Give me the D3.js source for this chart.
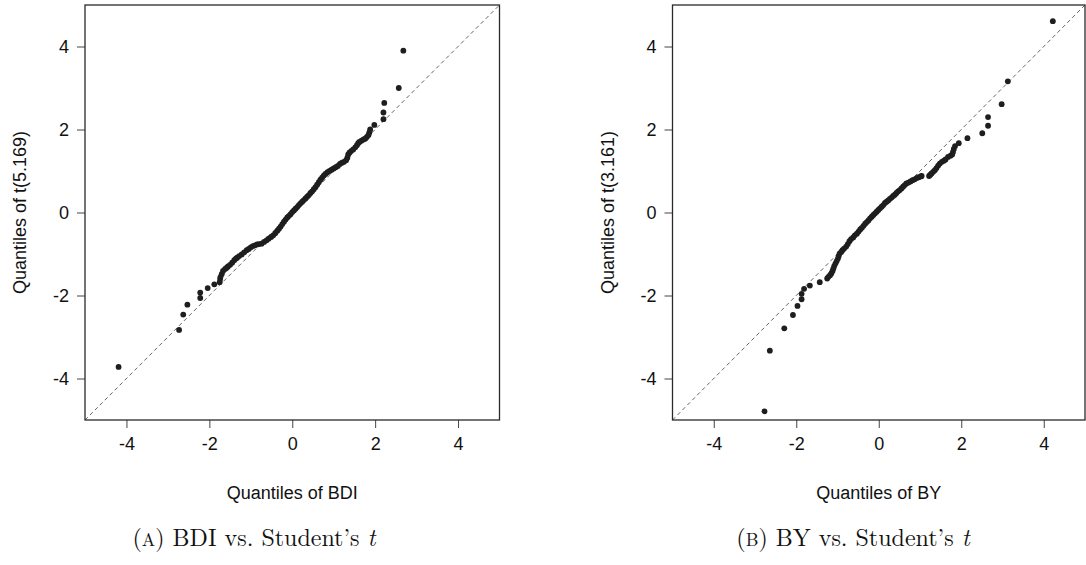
<!DOCTYPE html>
<html>
<head>
<meta charset="utf-8">
<script src="https://cdn.jsdelivr.net/npm/d3@7"></script>
<style>
  body { margin: 0; background: #fff; }
  svg text { font-family: "Liberation Sans", Arial, sans-serif; fill: #111; }
  .cap { font-family: "Latin Modern Roman", "Liberation Serif", "DejaVu Serif", serif; }
</style>
</head>
<body>
<svg id="fig" width="1086" height="565"></svg>
<script>
// ticks shared by both panels
var tickValues = [-4, -2, 0, 2, 4];

// panel A: sample quantiles of BDI vs t(5.169) quantiles
var bdiX = [-4.19, -2.73, -2.63, -2.53, -2.22, -2.22, -2.04, -1.88,
  -1.75, -1.74, -1.73, -1.70, -1.67, -1.62, -1.58, -1.55, -1.50, -1.45, -1.40, -1.36,
  -1.33, -1.28, -1.22, -1.16, -1.10, -1.05, -1.00, -0.95, -0.90, -0.85, -0.80, -0.74,
  -0.68, -0.62, -0.57, -0.51, -0.46, -0.41, -0.36, -0.32, -0.28, -0.24, -0.20, -0.16,
  -0.12, -0.08, -0.04, 0.00, 0.04, 0.08, 0.12, 0.16, 0.20, 0.24, 0.28, 0.32, 0.36,
  0.40, 0.44, 0.48, 0.52, 0.56, 0.60, 0.64, 0.68, 0.72, 0.76, 0.80, 0.85, 0.90, 0.95,
  1.00, 1.05, 1.10, 1.15, 1.20, 1.25, 1.30, 1.33, 1.35, 1.38, 1.42, 1.47, 1.52, 1.56,
  1.59, 1.62, 1.67, 1.72, 1.76, 1.80, 1.84, 1.86, 1.88, 1.98, 2.20, 2.20, 2.22, 2.57, 2.68];
var bdiY = [-3.72, -2.83, -2.46, -2.22, -2.06, -1.93, -1.82, -1.73,
  -1.68, -1.60, -1.55, -1.48, -1.41, -1.36, -1.33, -1.30, -1.26, -1.21, -1.15, -1.11,
  -1.09, -1.05, -1.01, -0.96, -0.91, -0.88, -0.84, -0.81, -0.79, -0.77, -0.76, -0.75,
  -0.71, -0.67, -0.63, -0.59, -0.55, -0.50, -0.44, -0.39, -0.34, -0.28, -0.22, -0.17,
  -0.12, -0.08, -0.04, 0.01, 0.05, 0.09, 0.13, 0.18, 0.22, 0.26, 0.30, 0.34, 0.38,
  0.42, 0.47, 0.51, 0.56, 0.61, 0.67, 0.73, 0.79, 0.84, 0.89, 0.93, 0.97, 1.00, 1.03,
  1.06, 1.09, 1.12, 1.17, 1.20, 1.22, 1.26, 1.32, 1.40, 1.44, 1.48, 1.52, 1.57, 1.62,
  1.67, 1.70, 1.73, 1.76, 1.78, 1.82, 1.87, 1.93, 2.00, 2.11, 2.25, 2.41, 2.64, 3.00, 3.90];

// panel B: sample quantiles of BY vs t(3.161) quantiles
var byX = [-2.77, -2.64, -2.29, -2.08, -1.97, -1.87, -1.87, -1.81, -1.67, -1.43,
  -1.25, -1.22, -1.18, -1.15, -1.12, -1.10, -1.08, -1.05, -1.02, -0.99, -0.97, -0.95,
  -0.91, -0.88, -0.84, -0.79, -0.75, -0.71, -0.67, -0.62, -0.58, -0.53, -0.49, -0.45,
  -0.41, -0.37, -0.33, -0.29, -0.25, -0.21, -0.17, -0.13, -0.09, -0.05, -0.01, 0.03,
  0.07, 0.11, 0.15, 0.19, 0.23, 0.27, 0.31, 0.35, 0.39, 0.43, 0.47, 0.51, 0.55, 0.59,
  0.63, 0.67, 0.72, 0.77, 0.82, 0.87, 0.92, 0.97, 1.02, 1.04, 1.22, 1.25, 1.28, 1.32,
  1.36, 1.40, 1.44, 1.48, 1.53, 1.58, 1.62, 1.68, 1.74, 1.78, 1.80, 1.82, 1.85, 1.94,
  2.15, 2.51, 2.65, 2.65, 2.98, 3.13, 4.22];
var byY = [-4.79, -3.33, -2.79, -2.47, -2.25, -2.09, -1.96, -1.84, -1.76, -1.68,
  -1.59, -1.55, -1.51, -1.47, -1.41, -1.35, -1.29, -1.23, -1.17, -1.11, -1.05, -0.99,
  -0.95, -0.91, -0.87, -0.82, -0.76, -0.69, -0.64, -0.60, -0.55, -0.51, -0.46, -0.41,
  -0.37, -0.32, -0.27, -0.23, -0.19, -0.14, -0.10, -0.06, -0.02, 0.02, 0.06, 0.10,
  0.14, 0.18, 0.23, 0.26, 0.29, 0.33, 0.36, 0.40, 0.43, 0.47, 0.51, 0.54, 0.58, 0.62,
  0.66, 0.70, 0.72, 0.75, 0.78, 0.80, 0.83, 0.85, 0.87, 0.88, 0.88, 0.91, 0.94, 0.98,
  1.02, 1.07, 1.13, 1.18, 1.22, 1.25, 1.28, 1.34, 1.37, 1.40, 1.46, 1.53, 1.60, 1.67,
  1.79, 1.91, 2.09, 2.30, 2.61, 3.16, 4.61];

var panels = [
  { xs: bdiX, ys: bdiY, left: 85, right: 499.5, capX: 254, xlab: "Quantiles of BDI",
    ylab: "Quantiles of t(5.169)", tag: "A", name: "BDI" },
  { xs: byX, ys: byY, left: 672.5, right: 1085, capX: 853, xlab: "Quantiles of BY",
    ylab: "Quantiles of t(3.161)", tag: "B", name: "BY" }
];

var svg = d3.select("#fig");
var plotTop = 5, plotBottom = 420;

panels.forEach(function (p) {
  var x = d3.scaleLinear().domain([-5, 5]).range([p.left, p.right]);
  var y = d3.scaleLinear().domain([-5, 5]).range([plotBottom, plotTop]);
  var g = svg.append("g");

  // reference line y = x
  g.append("line")
    .attr("x1", x(-5)).attr("y1", y(-5))
    .attr("x2", x(5)).attr("y2", y(5))
    .attr("stroke", "#555").attr("stroke-width", 0.9)
    .attr("stroke-dasharray", "4,3");

  var pts = p.xs.map(function (v, i) { return [v, p.ys[i]]; });
  g.selectAll("circle").data(pts).enter().append("circle")
    .attr("cx", function (d) { return x(d[0]); })
    .attr("cy", function (d) { return y(d[1]); })
    .attr("r", 2.9)
    .attr("fill", "#1e1e1e");

  // axes, hyphen minus like R
  var fmt = function (d) { return String(d); };
  var xAxis = g.append("g").attr("transform", "translate(0," + plotBottom + ")")
    .call(d3.axisBottom(x).tickValues(tickValues).tickFormat(fmt).tickSize(8).tickPadding(9));
  var yAxis = g.append("g").attr("transform", "translate(" + p.left + ",0)")
    .call(d3.axisLeft(y).tickValues(tickValues).tickFormat(fmt).tickSize(8).tickPadding(8));
  [xAxis, yAxis].forEach(function (a) {
    a.select(".domain").remove();
    a.selectAll("line").attr("stroke", "#444").attr("stroke-width", 1);
    a.selectAll("text").attr("font-size", 18).attr("fill", "#111")
      .style("font-family", "'Liberation Sans', Arial, sans-serif");
  });

  // frame
  g.append("rect")
    .attr("x", p.left).attr("y", plotTop)
    .attr("width", p.right - p.left).attr("height", plotBottom - plotTop)
    .attr("fill", "none").attr("stroke", "#2a2a2a").attr("stroke-width", 1.3);

  g.append("text")
    .attr("x", (p.left + p.right) / 2).attr("y", 499)
    .attr("text-anchor", "middle").attr("font-size", 18)
    .text(p.xlab);

  g.append("text")
    .attr("transform", "translate(" + (p.left - 59) + "," + ((plotTop + plotBottom) / 2) + ") rotate(-90)")
    .attr("text-anchor", "middle").attr("font-size", 18)
    .text(p.ylab);

  var cap = g.append("text").attr("class", "cap")
    .attr("x", p.capX).attr("y", 546)
    .attr("text-anchor", "middle").attr("font-size", 24);
  cap.append("tspan").text("(");
  cap.append("tspan").attr("font-size", 18).text(p.tag);
  cap.append("tspan").text(") " + p.name + " vs. Student\u2019s ");
  cap.append("tspan").attr("font-style", "italic").text("t");
});
</script>
</body>
</html>
